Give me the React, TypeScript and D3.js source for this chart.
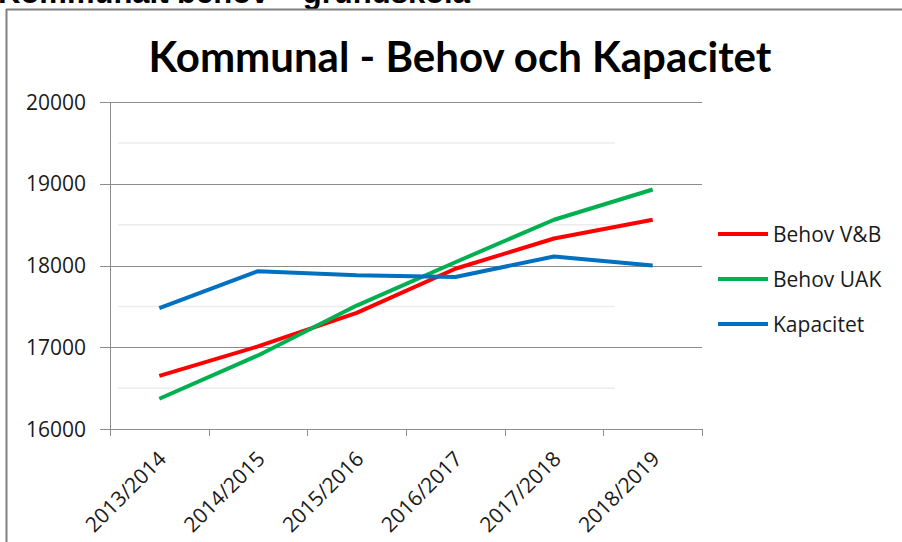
import React from "react";
import * as d3 from "d3";

const categories = ["2013/2014", "2014/2015", "2015/2016", "2016/2017", "2017/2018", "2018/2019"];
const behovVB = [16650, 17010, 17420, 17960, 18330, 18560];
const behovUAK = [16370, 16900, 17510, 18040, 18560, 18930];
const kapacitet = [17480, 17930, 17880, 17860, 18110, 18000];
const yTicks = [16000, 17000, 18000, 19000, 20000];
const faintTicks = [16500, 17500, 18500, 19500];

const seriesList = [
  { name: "Behov V&B", values: behovVB, color: "#ff0000" },
  { name: "Behov UAK", values: behovUAK, color: "#00b050" },
  { name: "Kapacitet", values: kapacitet, color: "#0070c0" },
];

const W = 902;
const H = 542;
const font = "'Open Sans', Lato, sans-serif";
const titleFont = "Lato, 'Open Sans', sans-serif";

export default function App() {
  const x = d3.scaleBand<string>().domain(categories).range([110, 702]).paddingInner(0).paddingOuter(0);
  const y = d3.scaleLinear().domain([16000, 20000]).range([429, 102]);
  const cx = (c: string) => (x(c) as number) + x.bandwidth() / 2;
  const line = d3
    .line<number>()
    .x((_, i) => cx(categories[i]))
    .y((v) => y(v));
  const boundaries = categories.map((c) => x(c) as number).concat([702]);

  return (
    <svg width={W} height={H} style={{ position: "absolute", left: 0, top: 0, background: "#fff" }}>
      <rect x={0} y={0} width={W} height={H} fill="#fff" />
      <text x={-2} y={3} fontFamily="'Liberation Sans', Arial, sans-serif" fontWeight="bold" fontSize={31} fill="#000">
        Kommunalt behov – grundskola
      </text>
      {/* chart frame */}
      <line x1={6} x2={W} y1={9.5} y2={9.5} stroke="#808080" strokeWidth={2} />
      <line x1={6.5} x2={6.5} y1={9} y2={H} stroke="#808080" strokeWidth={2} />

      <text x={460} y={72} textAnchor="middle" fontFamily={titleFont} fontWeight="bold" fontSize={42} fill="#000">
        Kommunal - Behov och Kapacitet
      </text>

      {/* faint lines */}
      {faintTicks.map((t) => (
        <line key={"f" + t} x1={118} x2={615} y1={y(t)} y2={y(t)} stroke="#ececec" strokeWidth={1.5} />
      ))}

      {/* gridlines */}
      {yTicks.map((t) => (
        <line key={"g" + t} x1={100} x2={702} y1={Math.round(y(t)) + 0.5} y2={Math.round(y(t)) + 0.5} stroke="#8c8c8c" strokeWidth={1} />
      ))}
      {/* y axis */}
      <line x1={110.5} x2={110.5} y1={y(20000)} y2={y(16000) + 6} stroke="#8c8c8c" strokeWidth={1} />
      {/* x ticks */}
      {boundaries.map((b, i) => (
        <line key={"t" + i} x1={Math.round(b) + 0.5} x2={Math.round(b) + 0.5} y1={y(16000)} y2={y(16000) + 7} stroke="#8c8c8c" strokeWidth={1} />
      ))}

      {yTicks.map((t) => (
        <text key={"yl" + t} x={86} y={y(t)} dy="0.36em" textAnchor="end" fontFamily={font} fontSize={21} fill="#1a1a1a">
          {t}
        </text>
      ))}

      {categories.map((c) => (
        <text
          key={c}
          transform={`translate(${cx(c) + 3},${455}) rotate(-45)`}
          textAnchor="end"
          dy="0.35em"
          fontFamily={font}
          fontSize={21}
          fill="#1a1a1a"
        >
          {c}
        </text>
      ))}

      {seriesList.map((s) => (
        <path key={s.name} d={line(s.values) as string} fill="none" stroke={s.color} strokeWidth={4} strokeLinejoin="round" strokeLinecap="butt" />
      ))}

      {seriesList.map((s, i) => {
        const ly = 234 + i * 45;
        return (
          <g key={"lg" + s.name}>
            <line x1={718} x2={768} y1={ly} y2={ly} stroke={s.color} strokeWidth={4} />
            <text x={773} y={ly} dy="0.36em" fontFamily={font} fontSize={21} fill="#1a1a1a">
              {s.name}
            </text>
          </g>
        );
      })}
    </svg>
  );
}
